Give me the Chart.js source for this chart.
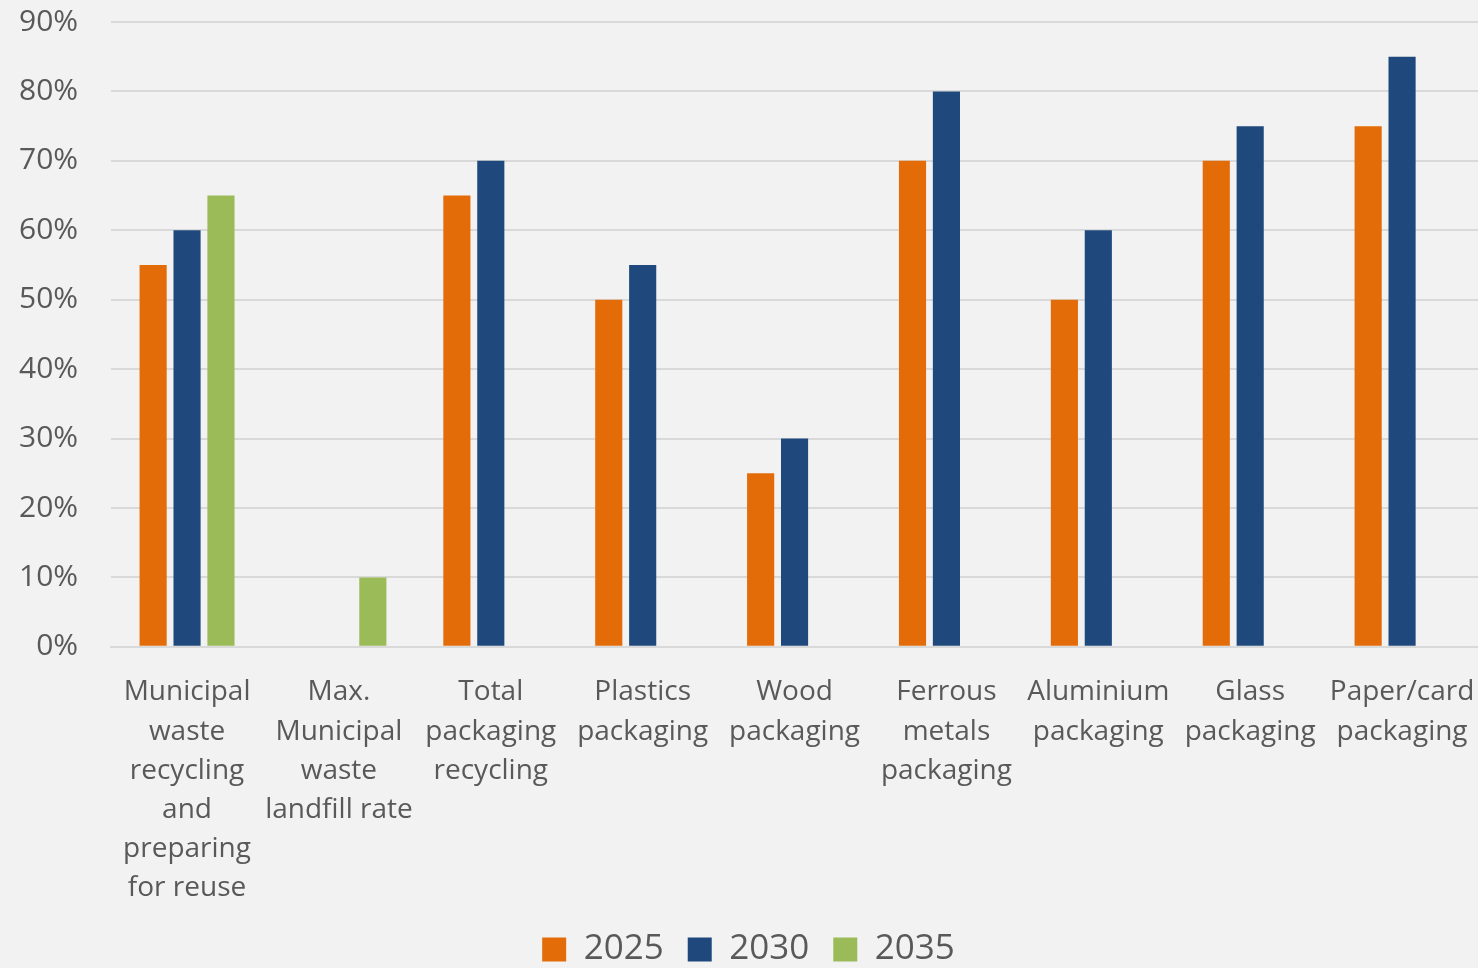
<!DOCTYPE html>
<html>
<head>
<meta charset="utf-8">
<script src="https://cdn.jsdelivr.net/npm/chart.js@4.4.1/dist/chart.umd.min.js"></script>
<style>
  html, body { margin: 0; padding: 0; background: #f2f2f2; }
  #wrap { width: 1478px; height: 968px; }
</style>
</head>
<body>
<div id="wrap"><canvas id="chart" width="1478" height="968"></canvas></div>
<script>
// categories (multi-line labels as in the original)
const categories = [
  ["Municipal", "waste", "recycling", "and", "preparing", "for reuse"],
  ["Max.", "Municipal", "waste", "landfill rate"],
  ["Total", "packaging", "recycling"],
  ["Plastics", "packaging"],
  ["Wood", "packaging"],
  ["Ferrous", "metals", "packaging"],
  ["Aluminium", "packaging"],
  ["Glass", "packaging"],
  ["Paper/card", "packaging"]
];
const seriesNames = ["2025", "2030", "2035"];
const values2025 = [55, null, 65, 50, 25, 70, 50, 70, 75];
const values2030 = [60, null, 70, 55, 30, 80, 60, 75, 85];
const values2035 = [65, 10, null, null, null, null, null, null, null];
const yTicks = [0, 10, 20, 30, 40, 50, 60, 70, 80, 90];

const colors = ["#e36c09", "#1f497d", "#9bbb59"];
const textColor = "#595959";
const fontFamily = "'Open Sans', 'Noto Sans', sans-serif";

const bgPlugin = {
  id: "bg",
  beforeDraw(chart) {
    const ctx = chart.ctx;
    ctx.save();
    ctx.fillStyle = "#f2f2f2";
    ctx.fillRect(0, 0, chart.width, chart.height);
    ctx.restore();
  }
};

// legend: keep wide spacing between items but a shorter box
const legendHeight = {
  id: "legendHeight",
  beforeUpdate(chart) {
    const lg = chart.legend;
    if (lg && !lg._patched) {
      const fit = lg.fit;
      lg.fit = function () {
        fit.call(this);
        this.height = 60;
      };
      lg._patched = true;
    }
  }
};

const ctx = document.getElementById("chart");
new Chart(ctx, {
  type: "bar",
  data: {
    labels: categories,
    datasets: [values2025, values2030, values2035].map((vals, i) => ({
      label: seriesNames[i],
      data: vals,
      backgroundColor: colors[i],
      borderWidth: 0,
      categoryPercentage: 0.67,
      barPercentage: 0.8
    }))
  },
  options: {
    responsive: false,
    animation: false,
    layout: { padding: { left: 19, right: 0, top: 22, bottom: 0 } },
    plugins: {
      tooltip: { enabled: false },
      legend: {
        position: "bottom",
        labels: {
          color: textColor,
          font: { family: fontFamily, size: 35 },
          boxWidth: 24,
          boxHeight: 24,
          padding: 24
        }
      }
    },
    scales: {
      x: {
        grid: { display: false, drawTicks: false },
        border: { color: "#d9d9d9", width: 2 },
        ticks: {
          color: textColor,
          autoSkip: false,
          maxRotation: 0,
          minRotation: 0,
          padding: 26,
          font: { family: fontFamily, size: 28, lineHeight: 1.4 }
        },
        afterFit(axis) {
          axis.paddingLeft = 0;
          axis.paddingRight = 0;
          axis.height -= axis.options.ticks.padding;
        }
      },
      y: {
        min: 0,
        max: 90,
        afterBuildTicks(axis) {
          axis.ticks = yTicks.map(v => ({ value: v }));
        },
        grid: { color: "#d9d9d9", lineWidth: 2, drawTicks: false },
        border: { display: false },
        ticks: {
          color: textColor,
          padding: 33,
          font: { family: fontFamily, size: 30 },
          callback: v => v + "%"
        },
        afterFit(axis) {
          axis.paddingTop = 0;
          axis.width -= axis.options.ticks.padding;
        }
      }
    }
  },
  plugins: [bgPlugin, legendHeight]
});
</script>
</body>
</html>
